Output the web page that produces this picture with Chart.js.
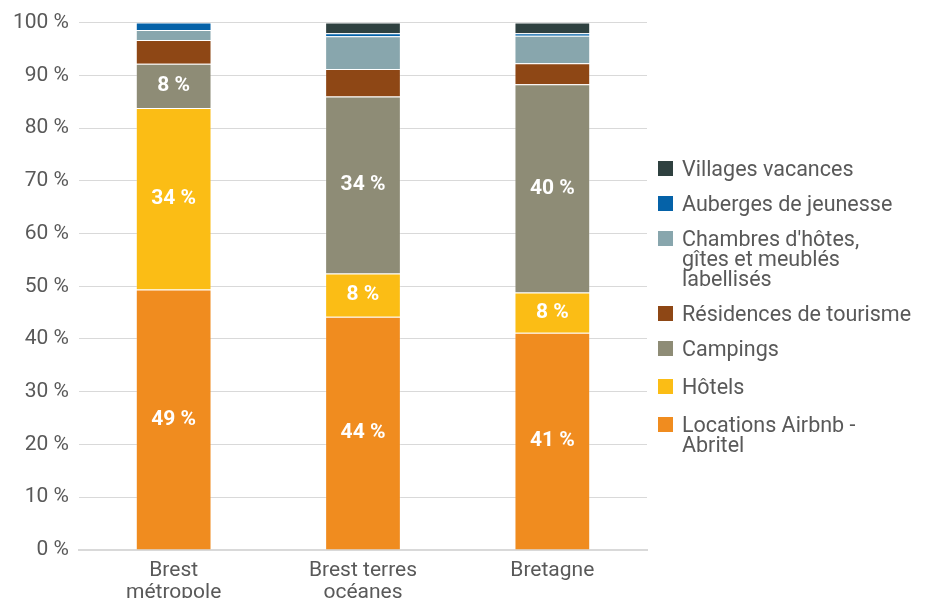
<!DOCTYPE html>
<html>
<head>
<meta charset="utf-8">
<script src="https://cdn.jsdelivr.net/npm/chart.js@4"></script>
<style>
  html, body { margin: 0; padding: 0; background: #fff; overflow: hidden; }
  #wrap { position: relative; width: 927px; height: 614px; }
  #legend {
    position: absolute; left: 658px; top: 159px;
    margin: 0; padding: 0; list-style: none;
    font-family: Roboto, "Noto Sans", sans-serif;
    font-size: 21.5px; line-height: 20px; color: #595959;
  }
  #legend li { display: flex; align-items: flex-start; margin-bottom: 15px; }
  #legend li:nth-child(n+5) { margin-bottom: 18px; }
  #legend .box { width: 15px; height: 15px; margin: 2px 9px 0 0; flex: none; }
</style>
</head>
<body>
<div id="wrap">
  <canvas id="hebergementChart"></canvas>
  <ul id="legend"></ul>
</div>
<script>
// Données
const categories = [['Brest', 'métropole'], ['Brest terres', 'océanes'], 'Bretagne'];
const yTicks = [0, 10, 20, 30, 40, 50, 60, 70, 80, 90, 100];

const airbnb = [49.4, 44.2, 41.2];
const hotels = [34.4, 8.2, 7.6];
const campings = [8.4, 33.6, 39.5];
const residences = [4.5, 5.2, 4.0];
const chambres = [1.9, 6.2, 5.2];
const auberges = [1.4, 0.6, 0.5];
const villages = [0, 2.0, 2.0];

const textColor = '#595959';
const fontFamily = 'Roboto, "Noto Sans", sans-serif';

// Étiquettes blanches au centre des segments
const segmentLabels = {
  id: 'segmentLabels',
  afterDatasetsDraw(chart) {
    const ctx = chart.ctx;
    ctx.save();
    ctx.fillStyle = '#fff';
    ctx.font = 'bold 21px ' + fontFamily;
    ctx.textAlign = 'center';
    ctx.textBaseline = 'middle';
    chart.data.datasets.forEach((ds, i) => {
      const meta = chart.getDatasetMeta(i);
      meta.data.forEach((bar, j) => {
        const v = ds.data[j];
        if (v < 7) return;
        const p = bar.getProps(['x', 'y', 'base'], true);
        ctx.fillText(Math.round(v) + ' %', p.x, (p.y + p.base) / 2);
      });
    });
    ctx.restore();
  }
};

// Légende HTML (ordre inversé)
const htmlLegend = {
  id: 'htmlLegend',
  afterUpdate(chart) {
    const ul = document.getElementById('legend');
    ul.innerHTML = '';
    const items = chart.options.plugins.legend.labels.generateLabels(chart).reverse();
    items.forEach(item => {
      const li = document.createElement('li');
      const box = document.createElement('span');
      box.className = 'box';
      box.style.background = item.fillStyle;
      const txt = document.createElement('span');
      txt.innerHTML = [].concat(item.text).join('<br>');
      li.appendChild(box);
      li.appendChild(txt);
      ul.appendChild(li);
    });
  }
};

function initChart() {
  const ctx = document.getElementById('hebergementChart');
  if (!ctx) return;

  const mk = (label, data, color) => ({
    label, data,
    backgroundColor: color,
    borderColor: 'rgba(255,255,255,0.2)',
    borderWidth: 1,
    barPercentage: 0.4,
    categoryPercentage: 1
  });

  new Chart(ctx, {
    type: 'bar',
    data: {
      labels: categories,
      datasets: [
        mk(['Locations Airbnb -', 'Abritel'], airbnb, '#f08c1f'),
        mk('Hôtels', hotels, '#fbbd15'),
        mk('Campings', campings, '#8e8c76'),
        mk('Résidences de tourisme', residences, '#8e4715'),
        mk(["Chambres d'hôtes,", 'gîtes et meublés', 'labellisés'], chambres, '#88a6ad'),
        mk('Auberges de jeunesse', auberges, '#0562a8'),
        mk('Villages vacances', villages, '#2f4140')
      ]
    },
    options: {
      responsive: true,
      maintainAspectRatio: false,
      animation: false,
      layout: { padding: { top: 11, left: 3, right: 280, bottom: 0 } },
      plugins: {
        legend: { display: false },
        tooltip: { enabled: false }
      },
      scales: {
        x: {
          stacked: true,
          grid: { display: false, drawTicks: false },
          border: { color: '#d9d9d9', width: 2 },
          ticks: {
            color: textColor,
            padding: 10,
            font: { size: 21, family: fontFamily, lineHeight: 1.05 }
          }
        },
        y: {
          stacked: true,
          min: 0,
          max: 100,
          afterBuildTicks: (axis) => { axis.ticks = yTicks.map(v => ({ value: v })); },
          grid: { color: '#d9d9d9', drawTicks: false },
          border: { display: false },
          ticks: {
            color: textColor,
            padding: 10,
            font: { size: 21, family: fontFamily },
            callback: (v) => v + ' %'
          }
        }
      }
    },
    plugins: [segmentLabels, htmlLegend]
  });
}

document.addEventListener('DOMContentLoaded', () => {
  initChart();
});
</script>
</body>
</html>
